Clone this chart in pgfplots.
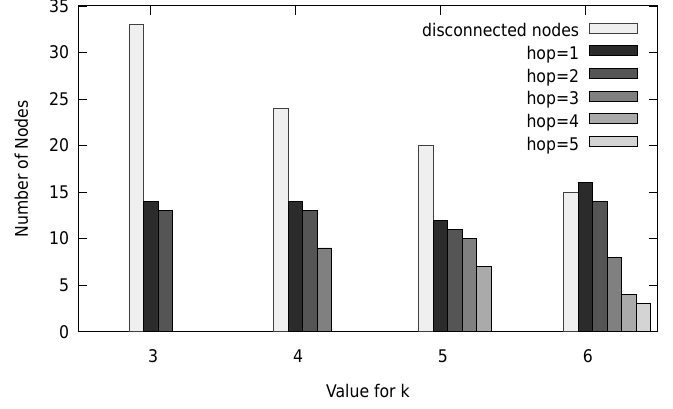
\documentclass[border=0pt]{standalone}
\usepackage{fontspec}
\setmainfont{DejaVu Sans Condensed}
\usepackage{pgfplots}
\pgfplotsset{compat=1.18}
\definecolor{cdisc}{HTML}{EFEFEF}
\definecolor{chopa}{HTML}{2B2B2B}
\definecolor{chopb}{HTML}{555555}
\definecolor{chopc}{HTML}{808080}
\definecolor{chopd}{HTML}{AAAAAA}
\definecolor{chope}{HTML}{D4D4D4}
\begin{document}
\begin{tikzpicture}
\useasboundingbox (0,0) rectangle (673bp,409bp);
\begin{axis}[
  at={(78.3bp,77.3bp)}, anchor=south west,
  scale only axis, width=579.4bp, height=325.7bp,
  xmin=2.5, xmax=6.5, ymin=0, ymax=35,
  xtick={3,4,5,6}, ytick={0,5,10,15,20,25,30,35},
  tick align=inside, major tick length=9bp,
  tick style={black, line width=0.8bp},
  axis line style={black, line width=1bp},
  font=\fontsize{17.5}{21}\selectfont,
  /pgf/number format/assume math mode=true,
  xticklabel style={inner sep=0pt, anchor=north, yshift=-18bp, xshift=2.5bp},
  yticklabel style={inner sep=0pt, anchor=east, xshift=-9bp},
  every axis x label/.style={at={(rel axis cs:0.5,0)}, anchor=north, inner sep=0pt, yshift=-52bp},
  every axis y label/.style={at={(rel axis cs:0,0.5)}, rotate=90, anchor=south, inner sep=0pt, yshift=50bp},
  xlabel={Value for k},
  ylabel={Number of Nodes},
  legend cell align=right,
  legend plot pos=right,
  legend image code/.code={\draw[#1] (0bp,-2bp) rectangle (48bp,8bp);},
  legend style={at={(rel axis cs:0.9663,0.9588)}, anchor=north east, draw=none, fill=none,
    inner sep=0pt, row sep=0pt, column sep=8bp,
    nodes={inner sep=2bp, text height=15bp, text depth=3.7bp}},
]
\addplot[ybar, bar width=0.1, bar shift=-0.1, fill=cdisc, draw=black!75, line width=0.8bp]
  coordinates {(3,33) (4,24) (5,20) (6,15)};
\addlegendentry{disconnected nodes}
\addplot[ybar, bar width=0.1, bar shift=0, fill=chopa, draw=black, line width=0.8bp]
  coordinates {(3,14) (4,14) (5,12) (6,16)};
\addlegendentry{hop=1}
\addplot[ybar, bar width=0.1, bar shift=0.1, fill=chopb, draw=black, line width=0.8bp]
  coordinates {(3,13) (4,13) (5,11) (6,14)};
\addlegendentry{hop=2}
\addplot[ybar, bar width=0.1, bar shift=0.2, fill=chopc, draw=black, line width=0.8bp]
  coordinates {(4,9) (5,10) (6,8)};
\addlegendentry{hop=3}
\addplot[ybar, bar width=0.1, bar shift=0.3, fill=chopd, draw=black, line width=0.8bp]
  coordinates {(5,7) (6,4)};
\addlegendentry{hop=4}
\addplot[ybar, bar width=0.1, bar shift=0.4, fill=chope, draw=black, line width=0.8bp]
  coordinates {(6,3)};
\addlegendentry{hop=5}
\end{axis}
\end{tikzpicture}
\end{document}
